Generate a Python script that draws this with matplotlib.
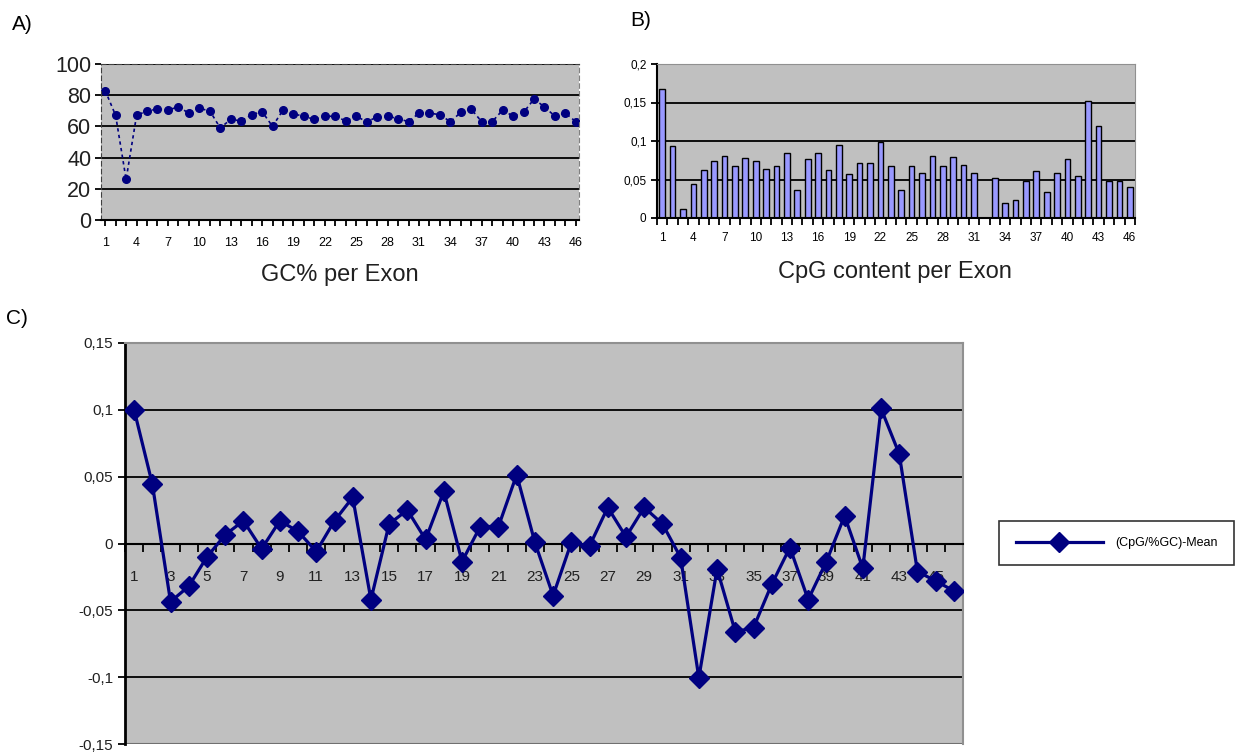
import numpy as np
import matplotlib
matplotlib.use('Agg')
import matplotlib.pyplot as plt
from matplotlib.ticker import FixedLocator

plt.rcParams['font.family'] = ['Liberation Sans', 'DejaVu Sans']

# exon numbers 1..46
exons = list(range(1, 47))

# A) GC% per exon
gc_percent = [83, 67, 26, 67, 70, 71, 70.5, 72.5, 68.5, 71.5,
              70, 59, 64.5, 63.5, 67.5, 69.5, 60, 70.5, 68, 66.5,
              64.5, 66.5, 66.5, 63.5, 66.5, 63, 66, 66.5, 65, 63,
              68.5, 68.5, 67.5, 63, 69, 71, 63, 63, 70.5, 66.5,
              69, 77.5, 72.5, 66.5, 68.5, 63]

# B) CpG content per exon (exon 32 has no bar)
cpg_content = [0.167, 0.094, 0.012, 0.044, 0.062, 0.074, 0.080, 0.068, 0.078, 0.074,
               0.064, 0.068, 0.084, 0.037, 0.077, 0.084, 0.062, 0.095, 0.057, 0.072,
               0.072, 0.099, 0.067, 0.036, 0.067, 0.059, 0.081, 0.067, 0.079, 0.069,
               0.059, np.nan, 0.052, 0.019, 0.024, 0.048, 0.061, 0.034, 0.059, 0.077,
               0.055, 0.152, 0.119, 0.048, 0.048, 0.040]

# C) (CpG/%GC)-Mean
cpg_gc_mean = [0.100, 0.0445, -0.0435, -0.032, -0.010, 0.0065, 0.017, -0.004, 0.017, 0.009,
               -0.006, 0.017, 0.0345, -0.042, 0.0147, 0.025, 0.003, 0.039, -0.0135, 0.0127,
               0.0127, 0.0515, 0.0008, -0.039, 0.0008, -0.0018, 0.027, 0.005, 0.027, 0.0147,
               -0.0105, -0.1005, -0.019, -0.066, -0.063, -0.0305, -0.003, -0.042, -0.0135, 0.0207,
               -0.0185, 0.101, 0.067, -0.021, -0.028, -0.0355]

a_yticks = [0, 20, 40, 60, 80, 100]
b_yticks = [0, 0.05, 0.1, 0.15, 0.2]
b_ylabels = ['0', '0,05', '0,1', '0,15', '0,2']
c_yticks = [-0.15, -0.1, -0.05, 0, 0.05, 0.1, 0.15]
c_ylabels = ['-0,15', '-0,1', '-0,05', '0', '0,05', '0,1', '0,15']

W, H = 1249, 752
GRAY = '#c0c0c0'
NAVY = '#000080'

fig = plt.figure(figsize=(W / 100, H / 100), dpi=100)
fig.patch.set_facecolor('white')

def box(l, t, r, b):
    return [l / W, 1 - b / H, (r - l) / W, (b - t) / H]

# ---------- A ----------
ax1 = fig.add_axes(box(101, 64, 579, 220))
ax1.set_facecolor(GRAY)
ax1.set_axisbelow(True)
ax1.plot(exons, gc_percent, color=NAVY, ls=(0, (2, 2)), lw=1.2,
         marker='o', ms=5.5, mfc=NAVY, mec=NAVY)
ax1.set_xlim(0.6, 46.3)
ax1.set_ylim(0, 100)
ax1.set_yticks(a_yticks)
ax1.set_yticklabels([str(v) for v in a_yticks], fontsize=15.5, color='#202020')
ax1.yaxis.grid(True, color='black', lw=1.3)
ax1.set_xticks(exons[::3])
ax1.set_xticklabels([str(v) for v in exons[::3]], fontsize=9)
ax1.xaxis.set_minor_locator(FixedLocator(exons))
ax1.tick_params(axis='x', which='both', length=4, width=1.3, direction='out', pad=8)
ax1.tick_params(axis='y', length=4, width=1.3, pad=3)
for s in ['top', 'left', 'right']:
    ax1.spines[s].set_linestyle((0, (4, 3)))
    ax1.spines[s].set_color('#404040')
ax1.spines['right'].set_color('#808080')
ax1.spines['bottom'].set_linewidth(1.5)
fig.text(340 / W, 1 - 275 / H, 'GC% per Exon', fontsize=17, ha='center', va='center', color='#202020')

# ---------- B ----------
ax2 = fig.add_axes(box(657, 64, 1135, 218))
ax2.set_facecolor(GRAY)
ax2.set_axisbelow(True)
ax2.bar(exons, cpg_content, width=0.55, color='#9999ff', edgecolor='black', lw=1.0)
ax2.set_xlim(0.5, 46.5)
ax2.set_ylim(0, 0.2)
ax2.set_yticks(b_yticks)
ax2.set_yticklabels(b_ylabels, fontsize=8.5)
ax2.yaxis.grid(True, color='black', lw=1.3)
ax2.set_xticks(exons[::3])
ax2.set_xticklabels([str(v) for v in exons[::3]], fontsize=8.5)
ax2.xaxis.set_minor_locator(FixedLocator(np.arange(0.5, 47, 1)))
ax2.tick_params(axis='x', which='major', length=0, pad=10)
ax2.tick_params(axis='x', which='minor', length=5, width=1.3)
ax2.tick_params(axis='y', length=4, width=1.3)
for s in ['top', 'right']:
    ax2.spines[s].set_color('#909090')
ax2.spines['left'].set_linewidth(1.5)
ax2.spines['bottom'].set_linewidth(1.5)
fig.text(895 / W, 1 - 272 / H, 'CpG content per Exon', fontsize=17, ha='center', va='center', color='#202020')

# ---------- C ----------
ax3 = fig.add_axes(box(125, 343, 963, 744))
ax3.set_facecolor(GRAY)
ax3.set_axisbelow(True)
ax3.plot(exons, cpg_gc_mean, color=NAVY, lw=2.3, marker='D', ms=10,
         mfc=NAVY, mec=NAVY, label='(CpG/%GC)-Mean', zorder=3)
ax3.set_xlim(0.5, 46.5)
ax3.set_ylim(-0.15, 0.15)
ax3.set_yticks(c_yticks)
ax3.set_yticklabels(c_ylabels, fontsize=11, color='#202020')
ax3.yaxis.grid(True, color='black', lw=1.3)
ax3.spines['bottom'].set_position(('data', 0))
ax3.set_xticks(exons[::2])
ax3.set_xticklabels([str(v) for v in exons[::2]], fontsize=11, color='#202020')
ax3.xaxis.set_minor_locator(FixedLocator(np.arange(0.5, 47, 1)))
ax3.tick_params(axis='x', which='major', length=0, pad=19)
ax3.tick_params(axis='x', which='minor', length=6, width=1.3)
ax3.tick_params(axis='y', length=5, width=1.3)
ax3.spines['bottom'].set_linewidth(1.5)
ax3.spines['left'].set_linewidth(2)
for s in ['top', 'right']:
    ax3.spines[s].set_color('#909090')
    ax3.spines[s].set_linewidth(1.5)
ax3.axhline(-0.15, color='#707070', lw=1.5, zorder=1)

fig.legend(loc='center left', bbox_to_anchor=(993 / W, 1 - 543 / H),
           fontsize=9, frameon=True, fancybox=False, edgecolor='black',
           handlelength=7, borderpad=1.3, handletextpad=1.0, markerscale=1.0)
leg = fig.legends[0]
leg.get_frame().set_linewidth(1.2)

# panel letters
fig.text(12 / W, 1 - 24 / H, 'A)', fontsize=15, ha='left', va='center')
fig.text(630 / W, 1 - 20 / H, 'B)', fontsize=15, ha='left', va='center')
fig.text(6 / W, 1 - 318 / H, 'C)', fontsize=15, ha='left', va='center')

fig.savefig('out.png', dpi=100)
